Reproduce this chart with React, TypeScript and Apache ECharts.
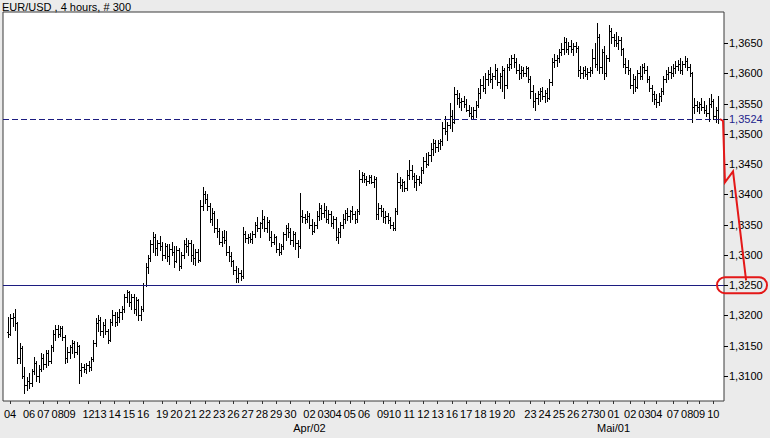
import React, { useEffect, useRef } from "react";
import * as echarts from "echarts";

const chartTitle = "EUR/USD , 4 hours, # 300";
// prices are written in pips above 1.3000 : [open, high, low, close]
const BASE = 1.3;
const PIP = 0.0001;

const segA = [
  [172,198,165,170],[170,203,168,196],[196,204,183,198],[198,211,176,188],[188,190,122,130],[130,155,122,146],
  [146,150,96,100],[100,115,72,85],[85,99,77,92],[92,105,80,88],[88,112,84,108],[108,131,104,122],
  [122,125,92,100],[100,118,90,112],[112,138,108,130],[130,136,112,120],[120,143,115,138],[138,143,118,125],
  [125,151,122,148],[148,176,142,170],[170,184,160,178],[178,184,165,170],[170,182,166,180],[180,183,160,165],
  [165,168,122,130],[130,148,124,140],[140,152,130,148],[148,160,138,155],[155,158,132,140],[140,156,136,150],
];
const segB = [
  [150,152,89,110],[110,122,100,115],[115,120,107,112],[112,122,105,118],[118,125,108,115],[115,132,110,128],
  [128,160,125,155],[155,196,150,188],[188,201,175,192],[192,198,168,175],[175,190,165,185],[185,195,170,175],
  [175,178,155,160],[160,195,158,190],[190,209,185,200],[200,205,182,190],[190,205,185,198],[198,210,190,205],
  [205,215,195,210],[210,235,205,230],[230,242,222,238],[238,240,215,222],[222,235,210,230],[230,236,204,210],
  [210,231,200,225],[225,228,193,200],[200,215,193,210],[210,254,208,250],[250,287,248,280],[280,300,270,295],
];
const segC = [
  [295,325,290,318],[318,338,305,330],[330,335,300,312],[312,325,300,320],[320,332,308,315],[315,322,292,300],
  [300,320,295,315],[315,318,290,298],[298,318,285,310],[310,322,300,305],[305,315,280,290],[290,315,288,308],
  [308,312,275,282],[282,305,278,300],[300,325,295,318],[318,328,305,315],[315,325,300,320],[320,325,290,300],
  [300,318,285,295],[295,310,283,305],[305,310,288,292],[292,391,290,380],[380,412,375,400],[400,405,385,392],
  [392,400,375,380],[380,385,355,360],[360,378,350,370],[370,372,338,345],[345,360,330,340],[340,345,318,322],
];
const segD = [
  [322,340,315,330],[330,342,320,325],[325,340,300,305],[305,315,290,298],[298,305,282,290],[290,292,268,275],
  [275,282,255,262],[262,278,256,270],[270,275,258,265],[265,346,262,335],[335,340,322,328],[328,335,320,330],
  [330,336,322,326],[326,340,320,335],[335,355,330,350],[350,362,340,345],[345,355,330,352],[352,374,345,360],
  [360,365,340,345],[345,362,338,355],[355,358,325,330],[330,340,315,322],[322,335,318,330],[330,332,305,310],
  [310,320,300,305],[305,318,302,315],[315,338,310,335],[335,350,325,345],[345,352,330,338],[338,345,318,325],
];
const segE = [
  [325,340,315,335],[335,338,310,320],[320,325,297,315],[315,402,312,365],[365,375,355,362],[362,368,352,360],
  [360,372,355,365],[365,370,345,350],[350,360,335,340],[340,355,338,350],[350,372,345,365],[365,385,358,378],
  [378,382,360,370],[370,386,362,375],[375,380,355,360],[360,375,352,368],[368,372,348,352],[352,365,345,360],
  [360,362,325,330],[330,345,320,338],[338,355,330,350],[350,368,345,360],[360,375,352,370],[370,378,358,365],
  [365,375,355,372],[372,380,360,368],[368,372,352,360],[360,376,355,372],[372,440,368,425],[425,437,420,432],
];
const segF = [
  [432,436,420,425],[425,430,415,422],[422,432,418,428],[428,432,418,420],[420,430,412,425],[425,428,360,368],
  [368,385,360,378],[378,382,365,372],[372,378,355,362],[362,372,352,365],[365,370,352,358],[358,362,345,350],
  [350,355,341,345],[345,378,342,372],[372,435,368,420],[420,428,410,415],[415,425,405,420],[420,422,405,410],
  [410,440,408,432],[432,457,425,440],[440,448,425,430],[430,435,412,420],[420,432,408,425],[425,430,415,420],
  [420,445,418,440],[440,462,435,455],[455,468,445,450],[450,470,448,465],[465,485,455,475],[475,492,465,485],
];
const segG = [
  [485,490,470,478],[478,490,472,485],[485,492,475,488],[488,520,482,510],[510,530,500,505],[505,520,490,515],
  [515,551,510,530],[530,540,505,520],[520,577,518,565],[565,572,550,560],[560,568,545,552],[552,560,540,555],
  [555,562,545,550],[550,558,538,540],[540,548,530,535],[535,544,526,530],[530,545,526,540],[540,555,528,548],
  [548,575,545,568],[568,590,560,580],[580,595,570,575],[575,600,568,590],[590,605,580,598],[598,610,585,590],
  [590,600,575,595],[595,615,590,605],[605,608,580,585],[585,600,575,595],[595,612,570,605],[605,608,560,580],
];
const segH = [
  [580,615,575,610],[610,625,605,615],[615,630,608,625],[625,632,610,618],[618,625,600,605],[605,615,590,600],
  [600,612,592,605],[605,610,595,600],[600,612,595,608],[608,610,585,590],[590,595,560,570],[570,580,545,555],
  [555,568,540,560],[560,570,550,565],[565,575,555,570],[570,578,558,562],[562,572,552,568],[568,575,555,560],
  [560,590,558,585],[585,625,580,618],[618,632,610,622],[622,630,612,625],[625,640,618,635],[635,650,630,640],
  [640,660,632,652],[652,658,635,640],[640,652,632,645],[645,655,635,640],[640,650,630,645],[645,652,635,642],
];
const segI = [
  [642,645,595,605],[605,612,592,600],[600,610,592,605],[605,612,595,598],[598,608,590,602],[602,610,595,606],
  [606,640,600,625],[625,650,610,615],[615,683,605,660],[660,665,600,610],[610,640,600,635],[635,645,590,600],
  [600,630,595,625],[625,680,620,670],[670,675,650,660],[660,665,645,655],[655,668,645,650],[650,662,640,655],
  [655,660,630,640],[640,642,610,615],[615,625,600,610],[610,622,598,605],[605,608,575,580],[580,598,568,590],
  [590,595,570,578],[578,605,575,600],[600,612,590,595],[595,615,590,610],[610,617,600,605],[605,612,585,590],
];
const segJ = [
  [590,595,570,575],[575,580,555,565],[565,570,550,558],[558,565,545,552],[552,568,548,562],[562,575,555,570],
  [570,595,565,590],[590,605,585,598],[598,610,590,602],[602,612,592,600],[600,615,595,608],[608,620,600,612],
  [612,622,605,615],[615,625,600,605],[605,620,598,615],[615,628,610,620],[620,625,605,610],[610,615,595,600],
  [600,602,520,545],[545,560,535,548],[548,555,538,545],[545,552,535,550],[550,560,540,545],[545,555,535,540],
  [540,548,530,535],[535,560,522,550],[550,565,545,555],[555,558,525,530],[530,545,520,540],[540,562,518,524],
];

const dayLabels = ["04","06","07","08","09","12","13","14","15","16","19","20","21","22","23","26","27","28","29","30",
  "02","03","04","05","06","09","10","11","12","13","16","17","18","19","20","23","24","25","26","27","30",
  "01","02","03","04","07","08","09","10"];
const dayIndex = [1,9,15,21,26,34,39,45,51,57,65,71,77,83,89,95,101,107,113,119,
  127,133,138,144,150,158,163,169,175,181,187,193,199,205,211,220,226,232,238,244,249,
  255,262,268,273,280,286,291,297];
const monthLabels = ["Apr/02", "Mai/01"];
const monthIndex = [127, 255];

const priceTicks = [1.31, 1.315, 1.32, 1.325, 1.33, 1.335, 1.34, 1.345, 1.35, 1.355, 1.36, 1.365];
const lastPrice = 1.3524;
const supportLevel = 1.325;
const projX = [299.8, 301.1, 301.9, 305.3, 310.8];
const projY = [1.35245, 1.35212, 1.342, 1.3438, 1.3258];

const bars = [...segA, ...segB, ...segC, ...segD, ...segE, ...segF, ...segG, ...segH, ...segI, ...segJ];

const FONT = "'Liberation Sans', Arial, sans-serif";
const NAVY = "#1c1c80";

export default function App() {
  const ref = useRef<HTMLDivElement>(null);
  useEffect(() => {
    if (!ref.current) return;
    const chart = echarts.init(ref.current, null, { renderer: "svg" });
    const ohlc = bars.map((b, i) => [i, BASE + b[0] * PIP, BASE + b[1] * PIP, BASE + b[2] * PIP, BASE + b[3] * PIP]);
    const closes = ohlc.map((d) => [d[0], d[4]]);
    const fmt = (v: number) => v.toFixed(4).replace(".", ",");
    const yVals = [...priceTicks, lastPrice];
    chart.setOption({
      animation: false,
      backgroundColor: "#ebebeb",
      title: {
        text: chartTitle,
        left: 2,
        top: 1,
        padding: 0,
        textStyle: { fontSize: 11, fontWeight: "normal", color: "#000", fontFamily: FONT },
      },
      grid: {
        left: 3, top: 12, right: 46, bottom: 37,
        show: true, backgroundColor: "#ffffff", borderColor: "#3a3a3a", borderWidth: 1,
      },
      xAxis: {
        type: "value",
        min: -2,
        max: 301.5,
        axisLine: { show: false },
        splitLine: { show: false },
        axisTick: { show: true, customValues: dayIndex, length: 3, lineStyle: { color: "#333" } },
        axisLabel: {
          customValues: dayIndex,
          hideOverlap: false,
          margin: 6,
          fontSize: 11,
          lineHeight: 14,
          color: "#000",
          fontFamily: FONT,
          formatter: (v: number) => {
            const k = dayIndex.indexOf(v);
            const lab = k >= 0 ? dayLabels[k] : "";
            const m = monthIndex.indexOf(v);
            return m >= 0 ? lab + "\n" + monthLabels[m] : lab;
          },
        },
      },
      yAxis: {
        type: "value",
        position: "right",
        min: 1.30588,
        max: 1.37012,
        axisLine: { show: false },
        splitLine: { show: false },
        axisTick: { show: false },
        axisLabel: {
          customValues: yVals,
          hideOverlap: false,
          margin: 5,
          fontSize: 11,
          color: "#000",
          fontFamily: FONT,
          formatter: (v: number) => (Math.abs(v - lastPrice) < 1e-7 ? "{b|" + fmt(v) + "}" : fmt(v)),
          rich: { b: { color: "#23238c", fontSize: 11, fontFamily: FONT } },
        },
      },
      series: [
        {
          type: "line",
          data: closes,
          showSymbol: false,
          silent: true,
          lineStyle: { opacity: 0, width: 0 },
          z: 1,
          markLine: {
            silent: true,
            precision: 6,
            symbol: ["none", "none"],
            label: { show: false },
            lineStyle: { color: NAVY, width: 1, type: "solid", opacity: 1 },
            emphasis: { disabled: true },
            data: [
              { yAxis: supportLevel, lineStyle: { color: NAVY, width: 1, type: "solid", opacity: 1 } },
              { yAxis: lastPrice, lineStyle: { type: [6, 3], color: NAVY, width: 1, opacity: 1 } },
            ],
          },
        },
        {
          type: "custom",
          data: ohlc,
          dimensions: ["i", "open", "high", "low", "close"],
          encode: { x: 0, y: [1, 2, 3, 4] },
          z: 3,
          renderItem: (params: any, api: any) => {
            const i = api.value(0);
            const pO = api.coord([i, api.value(1)]);
            const pH = api.coord([i, api.value(2)]);
            const pL = api.coord([i, api.value(3)]);
            const pC = api.coord([i, api.value(4)]);
            const x = Math.round(pH[0]) + 0.5;
            const style = { stroke: "#000", lineWidth: 1 };
            const yo = Math.round(pO[1]) + 0.5;
            const yc = Math.round(pC[1]) + 0.5;
            return {
              type: "group",
              children: [
                { type: "line", shape: { x1: x, y1: Math.round(pH[1]), x2: x, y2: Math.round(pL[1]) + 1 }, style },
                { type: "line", shape: { x1: x - 1.5, y1: yo, x2: x, y2: yo }, style },
                { type: "line", shape: { x1: x, y1: yc, x2: x + 1.5, y2: yc }, style },
              ],
            };
          },
        },
      ],
    });
    const gridRight = 770 - 46;
    const tickEls = yVals.map((v) => {
      const y = Math.round(chart.convertToPixel({ yAxisIndex: 0 }, v) as number) + 0.5;
      return {
        type: "line",
        z: 50,
        shape: { x1: gridRight, y1: y, x2: gridRight + 4, y2: y },
        style: { stroke: "#000", lineWidth: 1 },
      };
    });
    const projPts = projX.map((x, k) => chart.convertToPixel({ gridIndex: 0 }, [x, projY[k]]) as number[]);
    const yS = chart.convertToPixel({ yAxisIndex: 0 }, supportLevel) as number;
    chart.setOption({
      graphic: [
        ...tickEls,
        {
          type: "polyline",
          z: 90,
          shape: { points: projPts },
          style: { fill: "none", stroke: "#e41818", lineWidth: 2 },
        },
        {
          type: "rect",
          z: 100,
          shape: { x: 717, y: yS - 8, width: 50, height: 16, r: 8 },
          style: { fill: "none", stroke: "#e41818", lineWidth: 2 },
        },
      ],
    });
    return () => chart.dispose();
  }, []);
  return <div ref={ref} style={{ position: "fixed", left: 0, top: 0, width: 770, height: 438 }} />;
}
